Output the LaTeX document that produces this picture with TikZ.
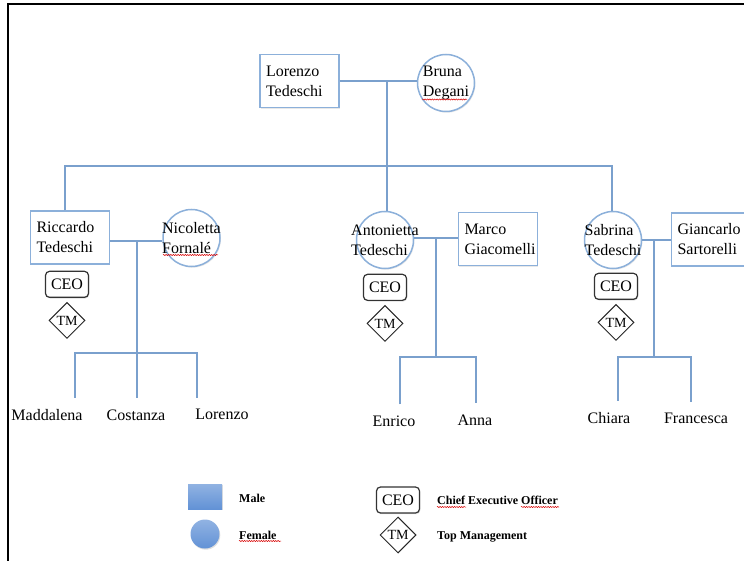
\documentclass[tikz,border=0pt]{standalone}
\usepackage{fontspec}
\setmainfont{Liberation Serif}
\usepackage{xcolor}
\usetikzlibrary{positioning, shapes.geometric, shadows, decorations.pathmorphing}
\definecolor{treeblue}{RGB}{122,160,205}
\definecolor{edgeblue}{RGB}{140,176,218}
\definecolor{legendblue}{RGB}{98,146,214}
\tikzstyle{link} = [draw=treeblue, line width=2.6pt]
\tikzstyle{spell} = [draw=red!85!black, line width=0.5pt, decorate, decoration={snake, amplitude=0.6pt, segment length=2.4pt}]
\tikzstyle{soft} = [drop shadow={opacity=0.18, shadow xshift=0.9pt, shadow yshift=-1.2pt}]

\begin{document}
\begin{tikzpicture}[x=1pt, y=-1pt,
        male/.style={rectangle, draw=edgeblue, line width=1.5pt, fill=white, soft, minimum width=79pt, minimum height=53pt, text width=67pt, inner xsep=6pt, align=left, font=\fontsize{16}{20}\selectfont},
        female/.style={circle, draw=edgeblue, line width=1.5pt, fill=white, soft, minimum size=57pt, inner sep=0pt},
        womanname/.style={align=left, inner sep=0pt, font=\fontsize{16}{20}\selectfont},
        kid/.style={anchor=base, inner sep=1pt, outer ysep=10pt, font=\fontsize{16}{20}\selectfont},
        ceobox/.style={rectangle, rounded corners=4pt, draw=black!80, line width=1.2pt, minimum width=43pt, minimum height=26pt, inner sep=1pt, fill=white, font=\fontsize{16}{20}\selectfont, drop shadow={opacity=0.25, shadow xshift=0.8pt, shadow yshift=-1.2pt}},
        tmbox/.style={diamond, draw=black!85, line width=1pt, minimum size=36pt, inner sep=0pt, fill=white, font=\fontsize{14}{16}\selectfont},
        legtext/.style={anchor=west, inner sep=0pt, font=\fontsize{12}{15}\selectfont\bfseries}
    ]
    \useasboundingbox (0,0) rectangle (744,561);
    \clip (0,0) rectangle (744,561);

    % Page frame
    \draw[line width=2pt] (8,561) -- (8,4.5) -- (744,4.5);

    % Persons
    \node[male] (lorenzo) at (299.5,81) {Lorenzo\\Tedeschi};
    \node[female, label={[womanname]center:Bruna\\Degani}] (bruna) at (446,83) {};
    \node[male] (riccardo) at (70,237.5) {Riccardo\\Tedeschi};
    \node[female, label={[womanname]center:Nicoletta\\Fornalé}] (nicoletta) at (191.5,238) {};
    \node[female, label={[womanname]center:Antonietta\\Tedeschi}] (antonietta) at (385,240) {};
    \node[male] (marco) at (498,239) {Marco\\Giacomelli};
    \node[female, label={[womanname]center:Sabrina\\Tedeschi}] (sabrina) at (613,240) {};
    \node[male] (giancarlo) at (711,239.5) {Giancarlo\\Sartorelli};

    % Roles
    \node[ceobox, below=6pt of riccardo, xshift=-3pt] (ceo1) {CEO};
    \node[tmbox, below=4pt of ceo1] (tm1) {TM};
    \node[ceobox, below=4.5pt of antonietta] (ceo2) {CEO};
    \node[tmbox, below=4pt of ceo2] (tm2) {TM};
    \node[ceobox, below=3.5pt of sabrina, xshift=3pt] (ceo3) {CEO};
    \node[tmbox, below=4pt of ceo3] (tm3) {TM};

    % Grandchildren
    \node[kid] (maddalena) at (47,420) {Maddalena};
    \node[kid] (costanza) at (136,420) {Costanza};
    \node[kid] (lorenzoc) at (222,419) {Lorenzo};
    \node[kid] (enrico) at (394,426) {Enrico};
    \node[kid] (anna) at (475,425) {Anna};
    \node[kid] (chiara) at (609,423) {Chiara};
    \node[kid] (francesca) at (696,423) {Francesca};

    % Junctions
    \coordinate (j0) at (387,81);
    \coordinate (g1) at (65,166);
    \coordinate (g3) at (612,166);
    \coordinate (j1) at (137,241);
    \coordinate (k11) at (75,353);
    \coordinate (k13) at (197,353);
    \coordinate (j2) at (436,238);
    \coordinate (k21) at (400,357);
    \coordinate (k22) at (476,357);
    \coordinate (j3) at (654,240);
    \coordinate (k31) at (618,357);
    \coordinate (k32) at (691,357);

    % Marriages
    \draw[link] (lorenzo.east) -- (lorenzo.east -| bruna.west);
    \draw[link] (j1 -| riccardo.east) -- (j1 -| nicoletta.west);
    \draw[link] (j2 -| antonietta.east) -- (j2 -| marco.west);
    \draw[link] (j3 -| sabrina.east) -- (j3 -| giancarlo.west);

    % Descent
    \draw[link] (j0) -- (j0 |- antonietta.north);
    \draw[link] (g1 |- riccardo.north) -- (g1) -- (g3) -- (g3 |- sabrina.north);
    \draw[link] (j1) -- (j1 |- costanza.north);
    \draw[link] (k11 |- maddalena.north) -- (k11) -- (k13) -- (k13 |- lorenzoc.north);
    \draw[link] (j2) -- (j2 |- k21);
    \draw[link] (k21 |- enrico.north) -- (k21) -- (k22) -- (k22 |- anna.north);
    \draw[link] (j3) -- (j3 |- k31);
    \draw[link] (k31 |- chiara.north) -- (k31) -- (k32) -- (k32 |- francesca.north);

    % Legend
    \node[rectangle, minimum width=34pt, minimum height=25pt, top color=legendblue!70, bottom color=legendblue, drop shadow={opacity=0.25, shadow xshift=0.8pt, shadow yshift=-1.2pt}] (legmale) at (205,496.5) {};
    \node[circle, minimum size=29pt, inner sep=0pt, top color=legendblue!70, bottom color=legendblue, drop shadow={opacity=0.25, shadow xshift=0.8pt, shadow yshift=-1.2pt}] (legfemale) at (205,534) {};
    \node[legtext] (legmaletext) at (239,498) {Male};
    \node[legtext] (legfemaletext) at (239,535) {Female};
    \node[ceobox] (legceo) at (398,500) {CEO};
    \node[tmbox] (legtm) at (398,535) {TM};
    \node[legtext] (legceotext) at (437,500) {Chief Executive Officer};
    \node[legtext] (legtmtext) at (437,537) {Top Management};

    % Spell check marks
    \draw[spell] (422,99.5) -- (467,99.5);
    \draw[spell] (163,255) -- (218,255);
    \draw[spell] (239,541) -- (281,541);
    \draw[spell] (437,507) -- (466,507);
    \draw[spell] (521,507) -- (559,507);

\end{tikzpicture}
\end{document}
